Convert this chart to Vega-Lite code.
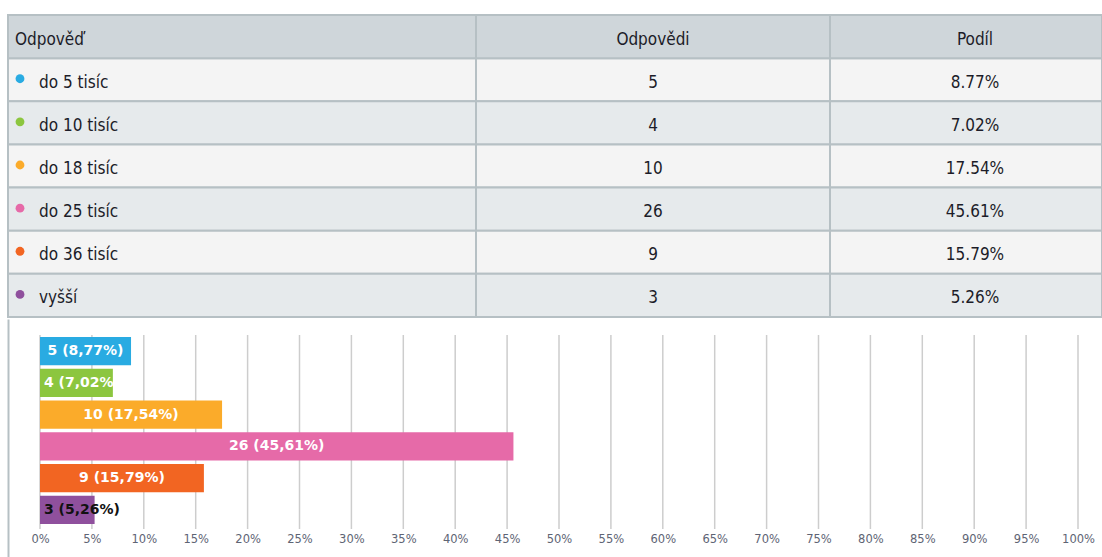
{
  "$schema": "https://vega.github.io/schema/vega-lite/v6.json",
  "background": "white",
  "padding": {"left": 7, "top": 14, "right": 0, "bottom": 0},
  "spacing": -2,
  "config": {"view": {"stroke": null}, "concat": {"spacing": 0}},
  "datasets": {
    "answers": [
      {"answer": "do 5 tisíc", "count": 5, "pct": 0.0877, "label": "5 (8,77%)"},
      {"answer": "do 10 tisíc", "count": 4, "pct": 0.0702, "label": "4 (7,02%)"},
      {"answer": "do 18 tisíc", "count": 10, "pct": 0.1754, "label": "10 (17,54%)"},
      {"answer": "do 25 tisíc", "count": 26, "pct": 0.4561, "label": "26 (45,61%)"},
      {"answer": "do 36 tisíc", "count": 9, "pct": 0.1579, "label": "9 (15,79%)"},
      {"answer": "vyšší", "count": 3, "pct": 0.0526, "label": "3 (5,26%)"}
    ],
    "ticks": [
      {"tick": 0}, {"tick": 0.05}, {"tick": 0.1}, {"tick": 0.15}, {"tick": 0.2}, {"tick": 0.25}, {"tick": 0.3},
      {"tick": 0.35}, {"tick": 0.4}, {"tick": 0.45}, {"tick": 0.5}, {"tick": 0.55}, {"tick": 0.6}, {"tick": 0.65},
      {"tick": 0.7}, {"tick": 0.75}, {"tick": 0.8}, {"tick": 0.85}, {"tick": 0.9}, {"tick": 0.95}, {"tick": 1}
    ]
  },
  "vconcat": [
    {
      "spacing": 0,
      "bounds": "flush",
      "hconcat": [
        {
          "width": 468,
          "height": 302,
          "data": {"name": "answers"},
          "layer": [
            {
              "mark": {"type": "rect", "stroke": "#b6c0c4", "strokeWidth": 2},
              "encoding": {
                "y": {"field": "answer", "type": "nominal", "axis": null,
                  "scale": {"type": "band", "domain": ["h", "do 5 tisíc", "do 10 tisíc", "do 18 tisíc", "do 25 tisíc", "do 36 tisíc", "vyšší"], "paddingInner": 0, "paddingOuter": 0}},
                "fill": {"condition": {"test": "indexof(['do 10 tisíc','do 25 tisíc','vyšší'], datum.answer) >= 0", "value": "#e6eaec"}, "value": "#f4f4f4"}
              }
            },
            {
              "data": {"values": [{"head": "Odpověď"}]},
              "mark": {"type": "rect", "fill": "#cfd6da", "stroke": "#b6c0c4", "strokeWidth": 2},
              "encoding": {
                "y": {"datum": "h", "type": "nominal", "axis": null,
                  "scale": {"type": "band", "domain": ["h", "do 5 tisíc", "do 10 tisíc", "do 18 tisíc", "do 25 tisíc", "do 36 tisíc", "vyšší"], "paddingInner": 0, "paddingOuter": 0}}
              }
            },
            {
              "data": {"values": [{"head": "Odpověď"}]},
              "mark": {"type": "text", "align": "left", "baseline": "middle", "dx": 7, "dy": 3, "font": "DejaVu Sans Condensed, Liberation Sans Narrow, sans-serif", "fontSize": 17, "color": "#1c1c28"},
              "encoding": {
                "x": {"datum": 0, "type": "quantitative", "scale": {"domain": [0, 1]}, "axis": null},
                "y": {"datum": "h", "type": "nominal", "axis": null,
                  "scale": {"type": "band", "domain": ["h", "do 5 tisíc", "do 10 tisíc", "do 18 tisíc", "do 25 tisíc", "do 36 tisíc", "vyšší"], "paddingInner": 0, "paddingOuter": 0}},
                "text": {"field": "head"}
              }
            },
            {
              "mark": {"type": "circle", "size": 78, "opacity": 1, "xOffset": 12, "yOffset": -1},
              "encoding": {
                "x": {"datum": 0, "type": "quantitative", "scale": {"domain": [0, 1]}, "axis": null},
                "y": {"field": "answer", "type": "nominal", "axis": null,
                  "scale": {"type": "band", "domain": ["h", "do 5 tisíc", "do 10 tisíc", "do 18 tisíc", "do 25 tisíc", "do 36 tisíc", "vyšší"], "paddingInner": 0, "paddingOuter": 0}},
                "color": {"field": "answer", "type": "nominal", "legend": null,
                  "scale": {"domain": ["do 5 tisíc", "do 10 tisíc", "do 18 tisíc", "do 25 tisíc", "do 36 tisíc", "vyšší"], "range": ["#29abe2", "#8cc63f", "#fbab2a", "#e66aa8", "#f26522", "#8f509d"]}}
              }
            },
            {
              "mark": {"type": "text", "align": "left", "baseline": "middle", "dx": 31, "dy": 3, "font": "DejaVu Sans Condensed, Liberation Sans Narrow, sans-serif", "fontSize": 17, "color": "#1c1c28"},
              "encoding": {
                "x": {"datum": 0, "type": "quantitative", "scale": {"domain": [0, 1]}, "axis": null},
                "y": {"field": "answer", "type": "nominal", "axis": null,
                  "scale": {"type": "band", "domain": ["h", "do 5 tisíc", "do 10 tisíc", "do 18 tisíc", "do 25 tisíc", "do 36 tisíc", "vyšší"], "paddingInner": 0, "paddingOuter": 0}},
                "text": {"field": "answer"}
              }
            }
          ]
        },
        {
          "width": 354,
          "height": 302,
          "data": {"name": "answers"},
          "layer": [
            {
              "mark": {"type": "rect", "stroke": "#b6c0c4", "strokeWidth": 2},
              "encoding": {
                "y": {"field": "answer", "type": "nominal", "axis": null,
                  "scale": {"type": "band", "domain": ["h", "do 5 tisíc", "do 10 tisíc", "do 18 tisíc", "do 25 tisíc", "do 36 tisíc", "vyšší"], "paddingInner": 0, "paddingOuter": 0}},
                "fill": {"condition": {"test": "indexof(['do 10 tisíc','do 25 tisíc','vyšší'], datum.answer) >= 0", "value": "#e6eaec"}, "value": "#f4f4f4"}
              }
            },
            {
              "data": {"values": [{"head": "Odpovědi"}]},
              "mark": {"type": "rect", "fill": "#cfd6da", "stroke": "#b6c0c4", "strokeWidth": 2},
              "encoding": {
                "y": {"datum": "h", "type": "nominal", "axis": null,
                  "scale": {"type": "band", "domain": ["h", "do 5 tisíc", "do 10 tisíc", "do 18 tisíc", "do 25 tisíc", "do 36 tisíc", "vyšší"], "paddingInner": 0, "paddingOuter": 0}}
              }
            },
            {
              "data": {"values": [{"head": "Odpovědi"}]},
              "mark": {"type": "text", "align": "center", "baseline": "middle", "dy": 3, "font": "DejaVu Sans Condensed, Liberation Sans Narrow, sans-serif", "fontSize": 17, "color": "#1c1c28"},
              "encoding": {
                "x": {"datum": 0.5, "type": "quantitative", "scale": {"domain": [0, 1]}, "axis": null},
                "y": {"datum": "h", "type": "nominal", "axis": null,
                  "scale": {"type": "band", "domain": ["h", "do 5 tisíc", "do 10 tisíc", "do 18 tisíc", "do 25 tisíc", "do 36 tisíc", "vyšší"], "paddingInner": 0, "paddingOuter": 0}},
                "text": {"field": "head"}
              }
            },
            {
              "mark": {"type": "text", "align": "center", "baseline": "middle", "dy": 3, "font": "DejaVu Sans Condensed, Liberation Sans Narrow, sans-serif", "fontSize": 17, "color": "#1c1c28"},
              "encoding": {
                "x": {"datum": 0.5, "type": "quantitative", "scale": {"domain": [0, 1]}, "axis": null},
                "y": {"field": "answer", "type": "nominal", "axis": null,
                  "scale": {"type": "band", "domain": ["h", "do 5 tisíc", "do 10 tisíc", "do 18 tisíc", "do 25 tisíc", "do 36 tisíc", "vyšší"], "paddingInner": 0, "paddingOuter": 0}},
                "text": {"field": "count", "type": "quantitative"}
              }
            }
          ]
        },
        {
          "width": 272,
          "height": 302,
          "data": {"name": "answers"},
          "layer": [
            {
              "mark": {"type": "rect", "stroke": "#b6c0c4", "strokeWidth": 2},
              "encoding": {
                "y": {"field": "answer", "type": "nominal", "axis": null,
                  "scale": {"type": "band", "domain": ["h", "do 5 tisíc", "do 10 tisíc", "do 18 tisíc", "do 25 tisíc", "do 36 tisíc", "vyšší"], "paddingInner": 0, "paddingOuter": 0}},
                "fill": {"condition": {"test": "indexof(['do 10 tisíc','do 25 tisíc','vyšší'], datum.answer) >= 0", "value": "#e6eaec"}, "value": "#f4f4f4"}
              }
            },
            {
              "data": {"values": [{"head": "Podíl"}]},
              "mark": {"type": "rect", "fill": "#cfd6da", "stroke": "#b6c0c4", "strokeWidth": 2},
              "encoding": {
                "y": {"datum": "h", "type": "nominal", "axis": null,
                  "scale": {"type": "band", "domain": ["h", "do 5 tisíc", "do 10 tisíc", "do 18 tisíc", "do 25 tisíc", "do 36 tisíc", "vyšší"], "paddingInner": 0, "paddingOuter": 0}}
              }
            },
            {
              "data": {"values": [{"head": "Podíl"}]},
              "mark": {"type": "text", "align": "center", "baseline": "middle", "dx": 9, "dy": 3, "font": "DejaVu Sans Condensed, Liberation Sans Narrow, sans-serif", "fontSize": 17, "color": "#1c1c28"},
              "encoding": {
                "x": {"datum": 0.5, "type": "quantitative", "scale": {"domain": [0, 1]}, "axis": null},
                "y": {"datum": "h", "type": "nominal", "axis": null,
                  "scale": {"type": "band", "domain": ["h", "do 5 tisíc", "do 10 tisíc", "do 18 tisíc", "do 25 tisíc", "do 36 tisíc", "vyšší"], "paddingInner": 0, "paddingOuter": 0}},
                "text": {"field": "head"}
              }
            },
            {
              "mark": {"type": "text", "align": "center", "baseline": "middle", "dx": 9, "dy": 3, "font": "DejaVu Sans Condensed, Liberation Sans Narrow, sans-serif", "fontSize": 17, "color": "#1c1c28"},
              "encoding": {
                "x": {"datum": 0.5, "type": "quantitative", "scale": {"domain": [0, 1]}, "axis": null},
                "y": {"field": "answer", "type": "nominal", "axis": null,
                  "scale": {"type": "band", "domain": ["h", "do 5 tisíc", "do 10 tisíc", "do 18 tisíc", "do 25 tisíc", "do 36 tisíc", "vyšší"], "paddingInner": 0, "paddingOuter": 0}},
                "text": {"field": "pct", "type": "quantitative", "format": ".2%"}
              }
            }
          ]
        }
      ]
    },
    {
      "width": 1094,
      "height": 240,
      "data": {"name": "answers"},
      "resolve": {"scale": {"x": "independent", "y": "independent"}, "axis": {"x": "independent", "y": "independent"}},
      "layer": [
        {
          "data": {"name": "ticks"},
          "mark": {"type": "rule", "color": "#cdcdcd", "strokeWidth": 1.5},
          "encoding": {
            "x": {"field": "tick", "type": "quantitative",
              "scale": {"domain": [-0.030829, 1.023121], "nice": false, "zero": false},
              "axis": {"values": [0, 0.05, 0.1, 0.15, 0.2, 0.25, 0.3, 0.35, 0.4, 0.45, 0.5, 0.55, 0.6, 0.65, 0.7, 0.75, 0.8, 0.85, 0.9, 0.95, 1],
                "format": ".0%", "domain": false, "ticks": false, "grid": false, "title": null, "labelFlush": false, "labelOverlap": false,
                "labelFont": "DejaVu Sans", "labelFontSize": 11.5, "labelColor": "#5e6474", "offset": -28, "labelPadding": 2}},
            "y": {"datum": 0, "type": "quantitative", "scale": {"domain": [-0.15464, 1.08247], "nice": false, "zero": false},
              "axis": {"domain": true, "domainColor": "#b6c0c4", "domainWidth": 2, "labels": false, "ticks": false, "grid": false, "title": null}},
            "y2": {"datum": 1}
          }
        },
        {
          "mark": {"type": "bar"},
          "encoding": {
            "x": {"field": "pct", "type": "quantitative", "scale": {"domain": [-0.030829, 1.023121], "nice": false, "zero": false}, "axis": null},
            "x2": {"datum": 0},
            "y": {"field": "answer", "type": "nominal", "axis": null,
              "scale": {"type": "band", "domain": ["do 5 tisíc", "do 10 tisíc", "do 18 tisíc", "do 25 tisíc", "do 36 tisíc", "vyšší"], "paddingInner": 0.11, "paddingOuter": 0.835, "align": 0.34}},
            "color": {"field": "answer", "type": "nominal", "legend": null,
              "scale": {"domain": ["do 5 tisíc", "do 10 tisíc", "do 18 tisíc", "do 25 tisíc", "do 36 tisíc", "vyšší"], "range": ["#29abe2", "#8cc63f", "#fbab2a", "#e66aa8", "#f26522", "#8f509d"]}}
          }
        },
        {
          "transform": [{"filter": "datum.pct >= 0.08"}],
          "mark": {"type": "text", "align": "center", "baseline": "middle", "font": "DejaVu Sans", "fontWeight": "bold", "fontSize": 14, "color": "white"},
          "encoding": {
            "x": {"field": "pct", "type": "quantitative", "scale": {"domain": [-0.061658, 2.046242], "nice": false, "zero": false}, "axis": null},
            "y": {"field": "answer", "type": "nominal", "axis": null,
              "scale": {"type": "band", "domain": ["do 5 tisíc", "do 10 tisíc", "do 18 tisíc", "do 25 tisíc", "do 36 tisíc", "vyšší"], "paddingInner": 0.11, "paddingOuter": 0.835, "align": 0.34}},
            "text": {"field": "label"}
          }
        },
        {
          "transform": [{"filter": "datum.pct < 0.08"}],
          "mark": {"type": "text", "align": "left", "baseline": "middle", "dx": 4, "font": "DejaVu Sans", "fontWeight": "bold", "fontSize": 14},
          "encoding": {
            "x": {"datum": 0, "type": "quantitative", "scale": {"domain": [-0.030829, 1.023121], "nice": false, "zero": false}, "axis": null},
            "y": {"field": "answer", "type": "nominal", "axis": null,
              "scale": {"type": "band", "domain": ["do 5 tisíc", "do 10 tisíc", "do 18 tisíc", "do 25 tisíc", "do 36 tisíc", "vyšší"], "paddingInner": 0.11, "paddingOuter": 0.835, "align": 0.34}},
            "color": {"condition": {"test": "datum.count === 3", "value": "#111111"}, "value": "white"},
            "text": {"field": "label"}
          }
        }
      ]
    }
  ]
}
